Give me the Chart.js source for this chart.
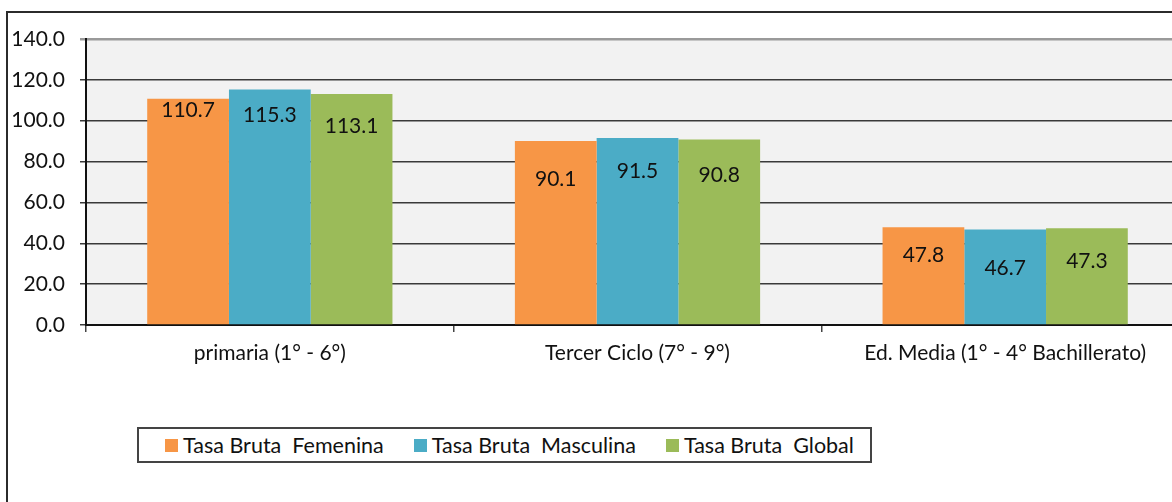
<!DOCTYPE html>
<html>
<head>
<meta charset="utf-8">
<script src="https://cdn.jsdelivr.net/npm/chart.js@4.4.1/dist/chart.umd.min.js"></script>
<style>
  html, body { margin: 0; padding: 0; background: #fff; overflow: hidden; width: 1172px; height: 502px; }
  #frame { position: absolute; left: 6px; top: 11px; width: 2000px; height: 1000px;
           border-left: 2px solid #2b2b2b; border-top: 2px solid #2b2b2b; }
  #wrap { position: absolute; left: 0; top: 0; width: 1195px; height: 400px; }
  #legend { position: absolute; left: 137px; top: 427px; width: 735px; height: 36px;
            border: 2px solid #444; display: flex; align-items: center; padding-left: 26px;
            box-sizing: border-box; font-family: Lato, "Open Sans", sans-serif; font-size: 21.5px; color: #111; }
  #legend .item { display: flex; align-items: center; margin-right: 30px; white-space: pre; }
  #legend .sw { width: 13px; height: 13px; margin-right: 5px; }
</style>
</head>
<body>
<div id="frame"></div>
<div id="wrap"><canvas id="chart" width="1195" height="400"></canvas></div>
<div id="legend"></div>
<script>
// Datos
const categories = ['primaria (1° - 6°)', 'Tercer Ciclo (7° - 9°)', 'Ed. Media (1° - 4° Bachillerato)'];
const seriesNames = ['Tasa Bruta  Femenina', 'Tasa Bruta  Masculina', 'Tasa Bruta  Global'];
const femenina  = [110.7, 90.1, 47.8];
const masculina = [115.3, 91.5, 46.7];
const global    = [113.1, 90.8, 47.3];
const yTicks = [0, 20, 40, 60, 80, 100, 120, 140];

const colors = ['#F79646', '#4BACC6', '#9BBB59'];
// desplazamiento vertical de cada etiqueta bajo el borde de la barra (px)
const labelDrop = [[11, 38, 28], [26, 33, 39], [32, 36, 33]];

const FONT = 'Lato, "Open Sans", sans-serif';

// Fondo gris del área de trazado
const plotBg = {
  id: 'plotBg',
  beforeDraw(chart) {
    const { ctx, chartArea: a } = chart;
    ctx.save();
    ctx.fillStyle = '#f2f2f2';
    ctx.fillRect(a.left, a.top, a.right - a.left, a.bottom - a.top);
    ctx.restore();
  }
};

// Etiquetas de valor dentro de las barras
const valueLabels = {
  id: 'valueLabels',
  afterDatasetsDraw(chart) {
    const ctx = chart.ctx;
    ctx.save();
    ctx.font = '21px ' + FONT;
    ctx.fillStyle = '#111';
    ctx.textAlign = 'center';
    ctx.textBaseline = 'middle';
    chart.data.datasets.forEach((ds, i) => {
      chart.getDatasetMeta(i).data.forEach((bar, j) => {
        ctx.fillText(ds.data[j].toFixed(1), bar.x, bar.y + labelDrop[i][j]);
      });
    });
    ctx.restore();
  }
};

const seriesData = [femenina, masculina, global];

new Chart(document.getElementById('chart'), {
  type: 'bar',
  data: {
    labels: categories,
    datasets: seriesData.map((d, i) => ({
      label: seriesNames[i],
      data: d,
      backgroundColor: colors[i],
      borderWidth: 0,
      categoryPercentage: 0.667,
      barPercentage: 1
    }))
  },
  options: {
    responsive: false,
    animation: false,
    layout: { padding: { top: 39, right: 6, left: 0, bottom: 0 } },
    plugins: { legend: { display: false }, tooltip: { enabled: false } },
    scales: {
      x: {
        grid: { offset: true, drawOnChartArea: false, tickLength: 7, color: '#444', lineWidth: 1.5 },
        border: { color: '#111', width: 2 },
        ticks: { font: { family: FONT, size: 21 }, color: '#111', padding: 9 },
        afterFit(scale) { scale.height = 75; }
      },
      y: {
        min: 0, max: 140,
        afterBuildTicks(scale) { scale.ticks = yTicks.map(v => ({ value: v })); },
        grid: {
          tickLength: 6,
          color: c => c.tick && c.tick.value === 140 ? '#9a9a9a' : '#3a3a3a',
          lineWidth: c => c.tick && c.tick.value === 140 ? 2.5 : 1.5
        },
        border: { color: '#111', width: 2 },
        ticks: {
          font: { family: FONT, size: 21 }, color: '#111', padding: 15,
          callback: v => Number(v).toFixed(1)
        },
        afterFit(scale) { scale.width = 86; }
      }
    }
  },
  plugins: [plotBg, valueLabels]
});

// Leyenda
const legend = document.getElementById('legend');
seriesNames.forEach((name, i) => {
  const item = document.createElement('div');
  item.className = 'item';
  const sw = document.createElement('span');
  sw.className = 'sw';
  sw.style.background = colors[i];
  const txt = document.createElement('span');
  txt.textContent = name;
  item.append(sw, txt);
  legend.appendChild(item);
});
</script>
</body>
</html>
